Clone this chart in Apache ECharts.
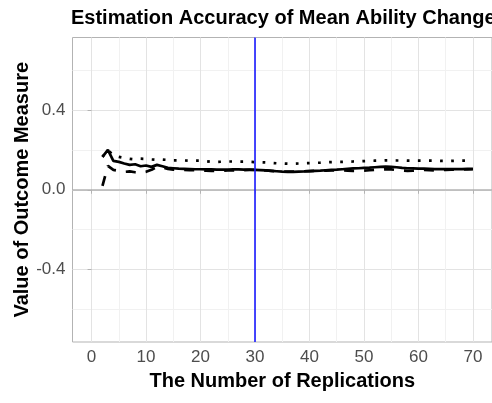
<!DOCTYPE html>
<html>
<head>
<meta charset="utf-8">
<script src="https://cdn.jsdelivr.net/npm/echarts@6/dist/echarts.min.js"></script>
<style>
  html, body { margin: 0; padding: 0; background: #ffffff; }
  #chart { width: 492px; height: 403px; }
</style>
</head>
<body>
<div id="chart"></div>
<script>
// Number of replications (x values)
const replications = [
  2, 3, 4, 5, 6, 7, 8, 9, 10, 11, 12, 13, 14, 15, 16, 17, 18, 19, 20,
  21, 22, 23, 24, 25, 26, 27, 28, 29, 30, 31, 32, 33, 34, 35, 36, 37, 38, 39, 40,
  41, 42, 43, 44, 45, 46, 47, 48, 49, 50, 51, 52, 53, 54, 55, 56, 57, 58, 59, 60,
  61, 62, 63, 64, 65, 66, 67, 68, 69, 70
];

// Solid line values
const solidVals = [
  0.165, 0.200, 0.145, 0.140, 0.132, 0.125, 0.128, 0.118, 0.122, 0.115, 0.125, 0.118, 0.110, 0.108, 0.106, 0.105, 0.104, 0.103, 0.103,
  0.102, 0.102, 0.101, 0.101, 0.101, 0.102, 0.102, 0.101, 0.101, 0.100, 0.099, 0.097, 0.095, 0.093, 0.091, 0.090, 0.090, 0.091, 0.092, 0.094,
  0.095, 0.096, 0.098, 0.100, 0.101, 0.103, 0.105, 0.107, 0.108, 0.110, 0.111, 0.113, 0.115, 0.116, 0.115, 0.113, 0.110, 0.108, 0.107, 0.106,
  0.106, 0.105, 0.104, 0.104, 0.104, 0.104, 0.104, 0.104, 0.105, 0.105
];

// Dashed line values
const dashedVals = [
  0.020, 0.120, 0.100, 0.095, 0.090, 0.092, 0.088, 0.085, 0.090, 0.100, 0.115, 0.112, 0.105, 0.101, 0.100, 0.100, 0.098, 0.098, 0.097,
  0.096, 0.095, 0.095, 0.096, 0.097, 0.097, 0.098, 0.099, 0.100, 0.100, 0.099, 0.097, 0.095, 0.093, 0.092, 0.091, 0.091, 0.092, 0.093, 0.094,
  0.095, 0.095, 0.096, 0.097, 0.097, 0.097, 0.096, 0.095, 0.095, 0.096, 0.098, 0.100, 0.102, 0.103, 0.102, 0.099, 0.096, 0.095, 0.096, 0.098,
  0.100, 0.099, 0.097, 0.098, 0.100, 0.101, 0.102, 0.102, 0.102, 0.103
];

// Dotted line values
const dottedVals = [
  0.165, 0.200, 0.172, 0.165, 0.160, 0.155, 0.152, 0.156, 0.155, 0.152, 0.150, 0.152, 0.150, 0.148, 0.148, 0.147, 0.146, 0.146, 0.146,
  0.143, 0.140, 0.140, 0.141, 0.142, 0.142, 0.141, 0.141, 0.140, 0.139, 0.138, 0.137, 0.135, 0.133, 0.132, 0.131, 0.131, 0.132, 0.133, 0.134,
  0.135, 0.136, 0.138, 0.139, 0.140, 0.140, 0.141, 0.142, 0.143, 0.144, 0.145, 0.146, 0.147, 0.148, 0.148, 0.147, 0.147, 0.146, 0.146, 0.146,
  0.146, 0.146, 0.146, 0.145, 0.145, 0.145, 0.146, 0.146, 0.146, 0.146
];

// Axis ticks and reference lines
const xTicks = [0, 10, 20, 30, 40, 50, 60, 70];
const xMinorTicks = [5, 15, 25, 35, 45, 55, 65];
const yTicks = [-0.4, 0.0, 0.4];
const yMinorTicks = [-0.6, -0.2, 0.2, 0.6];
const xRange = [-3.5, 73.5];
const yRange = [-0.765, 0.765];
const refReplication = 30;
const refValue = 0;

const FONT = '"Liberation Sans", Arial, sans-serif';

function pairs(vals) {
  return replications.map((r, i) => [r, vals[i]]);
}

const chart = echarts.init(document.getElementById('chart'), null, { renderer: 'canvas' });

const tickLabel = (ticks, extra) => Object.assign({
  customValues: ticks,
  color: '#4d4d4d',
  fontSize: 17,
  fontFamily: FONT,
  margin: 7
}, extra);

const majorAxis = (ticks, range, extra) => Object.assign({
  type: 'value',
  min: range[0],
  max: range[1],
  axisLine: { show: false },
  axisTick: { show: true, length: 4, customValues: ticks, lineStyle: { color: '#b3b3b3', width: 1 } },
  axisLabel: tickLabel(ticks),
  splitLine: { show: true, lineStyle: { color: '#e3e3e3', width: 1 } }
}, extra);

const minorAxis = (ticks, range, extra) => Object.assign({
  type: 'value',
  min: range[0],
  max: range[1],
  axisLine: { show: false },
  axisTick: { show: false, customValues: ticks },
  axisLabel: { show: false, customValues: ticks },
  splitLine: { show: true, lineStyle: { color: '#f1f1f1', width: 1 } }
}, extra);

const axisTitleStyle = { fontSize: 20, fontWeight: 'bold', color: '#000000', fontFamily: FONT };

chart.setOption({
  animation: false,
  backgroundColor: '#ffffff',
  title: {
    text: 'Estimation Accuracy of Mean Ability Change',
    left: 71,
    top: 8.5,
    padding: 0,
    textStyle: { fontSize: 20, fontWeight: 'bold', color: '#000000', fontFamily: FONT }
  },
  grid: {
    left: 72.5,
    top: 37.5,
    right: 0,
    bottom: 61,
    containLabel: false,
    outerBoundsMode: 'none',
    show: true,
    borderColor: '#b3b3b3',
    borderWidth: 1,
    backgroundColor: 'transparent'
  },
  xAxis: [
    majorAxis(xTicks, xRange, {
      position: 'bottom',
      name: 'The Number of Replications',
      nameLocation: 'middle',
      nameGap: 29,
      nameTextStyle: axisTitleStyle
    }),
    minorAxis(xMinorTicks, xRange, { position: 'bottom' })
  ],
  yAxis: [
    majorAxis(yTicks, yRange, {
      position: 'left',
      name: 'Value of Outcome Measure',
      nameLocation: 'middle',
      nameGap: 40,
      nameMoveOverlap: false,
      nameTextStyle: axisTitleStyle,
      axisLabel: tickLabel(yTicks, { formatter: v => v.toFixed(1) })
    }),
    minorAxis(yMinorTicks, yRange, { position: 'left' })
  ],
  series: [
    {
      name: 'zero',
      type: 'line',
      data: [],
      silent: true,
      z: 1,
      markLine: {
        silent: true,
        symbol: 'none',
        label: { show: false },
        animation: false,
        lineStyle: { color: '#b3b3b3', width: 1.5, type: 'solid' },
        data: [{ yAxis: refValue }]
      }
    },
    {
      name: 'dotted',
      type: 'line',
      data: pairs(dottedVals),
      showSymbol: false,
      z: 3,
      lineStyle: { color: '#000000', width: 2.7, type: [2.7, 8.4], cap: 'butt' }
    },
    {
      name: 'dashed',
      type: 'line',
      data: pairs(dashedVals),
      showSymbol: false,
      z: 3,
      lineStyle: { color: '#000000', width: 2.7, type: [10, 10], cap: 'butt' }
    },
    {
      name: 'solid',
      type: 'line',
      data: pairs(solidVals),
      showSymbol: false,
      z: 3,
      lineStyle: { color: '#000000', width: 2.7, type: 'solid' }
    },
    {
      name: 'cutoff',
      type: 'line',
      data: [],
      silent: true,
      z: 4,
      color: '#0000ff',
      markLine: {
        silent: true,
        symbol: 'none',
        label: { show: false },
        animation: false,
        lineStyle: { color: '#1a1aff', width: 1.6, type: 'solid' },
        data: [{ xAxis: refReplication }]
      }
    }
  ]
});
</script>
</body>
</html>
